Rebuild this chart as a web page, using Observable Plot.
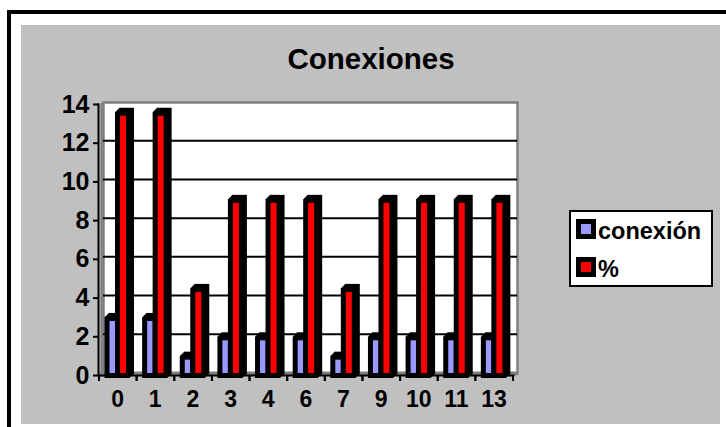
<!DOCTYPE html>
<html>
<head>
<meta charset="utf-8">
<script src="https://cdn.jsdelivr.net/npm/d3@7"></script>
<script src="https://cdn.jsdelivr.net/npm/@observablehq/plot@0.6"></script>
<style>
  html, body { margin: 0; padding: 0; background: #fff; overflow: hidden; }
  #chart { position: relative; width: 726px; height: 427px; overflow: hidden;
           font-family: "Liberation Sans", Arial, sans-serif; font-weight: bold; color: #000; }
  #frame { position: absolute; left: 7px; top: 10px; right: -10px; bottom: -10px;
           border: 4px solid #000; }
  #panel { position: absolute; left: 21px; top: 25px; width: 699px; height: 399px; background: #c0c0c0; }
  #title { position: absolute; left: 21px; width: 700px; top: 42px; text-align: center;
           font-size: 29.5px; line-height: 34px; }
  #plot { position: absolute; left: 0; top: 0; }
  #plot svg { background: transparent; display: block; }
  #legend { position: absolute; left: 569px; top: 210px; width: 140px; height: 73px;
            background: #fff; border: 2px solid #000; }
  .entry { position: absolute; left: 5px; font-size: 23.5px; line-height: 24px; white-space: nowrap; }
  .entry i { position: absolute; left: 0; top: 0; width: 10px; height: 10px; border: 5px solid #000; }
  .entry span { margin-left: 22px; }
</style>
</head>
<body>
<div id="chart">
  <div id="frame"></div>
  <div id="panel"></div>
  <div id="plot"></div>
  <div id="title">Conexiones</div>
  <div id="legend"></div>
</div>
<script>
const categories = ["0", "1", "2", "3", "4", "6", "7", "9", "10", "11", "13"];
const conexion = [3, 3, 1, 2, 2, 2, 1, 2, 2, 2, 2];
const porcentaje = [13.6, 13.6, 4.5, 9.1, 9.1, 9.1, 4.5, 9.1, 9.1, 9.1, 9.1];
const yTicks = [0, 2, 4, 6, 8, 10, 12, 14];
const gridValues = [2, 4, 6, 8, 10, 12];
const seriesNames = ["conexión", "%"];
const seriesColors = ["#9999ff", "#ff0000"];

const BLACK = "#000";
const WALL = "#808080";
const depthSteps = [0, 1, 2, 3, 4];
const halfStep = (726 - 99 - 213) / categories.length / 2;

const rows = series => categories.map((c, i) => ({category: c, value: series[i]}));

// A column: a black body swept up and to the right for depth, then the coloured face.
function column(series, color, body, face) {
  const data = rows(series);
  const base = {x: "category", y: "value"};
  return [
    ...depthSteps.map(s => Plot.barY(data, {
      ...base, fill: BLACK, dx: s, dy: -s,
      insetLeft: body[0], insetRight: body[1], insetBottom: -3
    })),
    Plot.barY(data, {
      ...base, fill: color,
      insetLeft: face[0], insetRight: face[1], insetTop: 4, insetBottom: 2
    })
  ];
}

const chart = Plot.plot({
  width: 726,
  height: 427,
  marginLeft: 99,
  marginRight: 213,
  marginTop: 104,
  marginBottom: 52,
  style: {background: "transparent", fontFamily: "'Liberation Sans', Arial, sans-serif", fontWeight: "bold", color: "#000"},
  x: {type: "band", domain: categories, padding: 0, round: false, label: null},
  y: {domain: [0, 14], label: null},
  marks: [
    // back wall and floor
    Plot.frame({fill: "#fff", stroke: WALL, strokeWidth: 2.5, dx: 4, dy: -2}),
    Plot.frame({anchor: "left", stroke: WALL, strokeWidth: 3, dx: 2.5}),
    Plot.frame({anchor: "bottom", stroke: WALL, strokeWidth: 4, dy: -2, dx: 2}),
    Plot.ruleY(gridValues, {stroke: BLACK, strokeWidth: 2, dy: -2.5, dx: 4}),

    // axis lines, ticks and labels; x ticks sit on the category boundaries
    Plot.frame({anchor: "left", stroke: BLACK, strokeWidth: 2, dx: -1}),
    Plot.frame({anchor: "bottom", stroke: BLACK, strokeWidth: 2}),
    Plot.axisY({ticks: yTicks, tickSize: 6, tickPadding: 4, fontSize: 25, stroke: BLACK, strokeWidth: 2, fill: BLACK, label: null}),
    Plot.axisX({tickSize: 6, text: null, dx: -halfStep - 0.5, stroke: BLACK, strokeWidth: 2, label: null}),
    Plot.axisX({tickSize: 6, text: null, dx: halfStep - 0.5, stroke: BLACK, strokeWidth: 2, label: null}),
    Plot.axisX({tickSize: 0, tickPadding: 15, fontSize: 23, fill: BLACK, dx: -0.7, label: null}),

    // columns
    ...column(conexion, seriesColors[0], [5.5, 17.64], [10.5, 21.64]),
    ...column(porcentaje, seriesColors[1], [16, 6.64], [21, 10.64])
  ]
});
document.getElementById("plot").append(chart);

// Legend entries
const legend = document.getElementById("legend");
seriesNames.forEach((name, i) => {
  const entry = document.createElement("div");
  entry.className = "entry";
  entry.style.top = (i === 0 ? 7 : 45) + "px";
  const swatch = document.createElement("i");
  swatch.style.background = seriesColors[i];
  const label = document.createElement("span");
  label.textContent = name;
  entry.append(swatch, label);
  legend.append(entry);
});
</script>
</body>
</html>
